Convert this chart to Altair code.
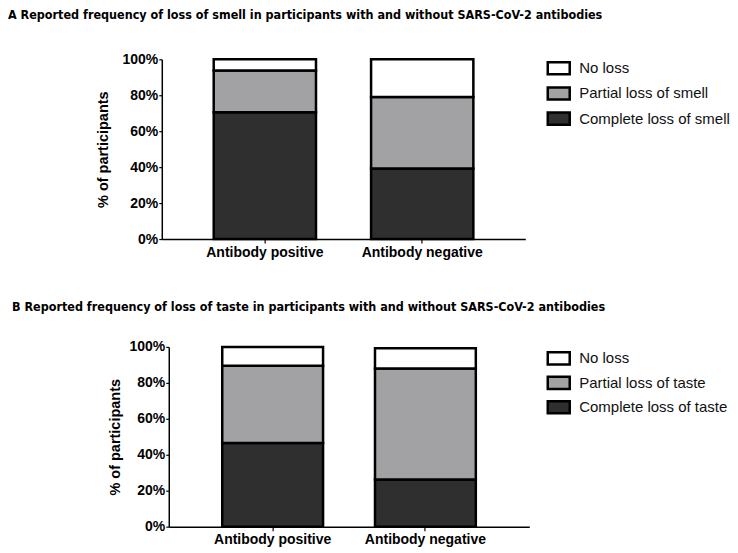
import altair as alt
import pandas as pd

groups = ["Antibody positive", "Antibody negative"]

smell_levels = ["No loss", "Partial loss of smell", "Complete loss of smell"]
smell_complete = [70.5, 39.3]
smell_partial = [23.3, 39.7]
smell_none = [6.2, 21.0]

taste_levels = ["No loss", "Partial loss of taste", "Complete loss of taste"]
taste_complete = [46.5, 26.2]
taste_partial = [43.0, 61.8]
taste_none = [10.5, 11.3]

fills = ["#ffffff", "#a2a2a5", "#2f2f2f"]

FONT = "Liberation Sans"
TFONT = "DejaVu Sans Condensed, Liberation Sans"


def make_df(levels, complete, partial, none):
    rows = []
    for i, g in enumerate(groups):
        rows.append({"group": g, "level": levels[2], "value": complete[i], "ord": 0})
        rows.append({"group": g, "level": levels[1], "value": partial[i], "ord": 1})
        rows.append({"group": g, "level": levels[0], "value": none[i], "ord": 2})
    return pd.DataFrame(rows)


def panel(df, levels, title, tdx, toff, lx, ly, rowpad, shift, width, ytp, pin, pout):
    return alt.Chart(df).mark_bar(stroke="black", strokeWidth=2.5).encode(
        x=alt.X("group:N", sort=groups, title=None,
                scale=alt.Scale(range=[shift, shift + width], paddingInner=pin, paddingOuter=pout),
                axis=alt.Axis(labelAngle=0, labelFont=FONT, labelFontSize=14,
                              labelFontWeight="bold", labelColor="black",
                              domainColor="black", domainWidth=1.5,
                              tickColor="black", tickSize=4, tickWidth=1.2,
                              labelPadding=2)),
        y=alt.Y("value:Q", stack="zero", title="% of participants",
                scale=alt.Scale(domain=[0, 100], nice=False),
                axis=alt.Axis(values=[0, 20, 40, 60, 80, 100], labelExpr="datum.value + '%'",
                              grid=False, labelFont=FONT, labelFontSize=14,
                              labelFontWeight="bold", labelColor="black",
                              titleFont=FONT, titleFontSize=14.5, titleFontWeight="bold",
                              titleColor="black", titlePadding=ytp,
                              domainColor="black", domainWidth=1.5,
                              tickColor="black", tickSize=3, tickWidth=1.2,
                              labelPadding=1, offset=-shift)),
        color=alt.Color("level:N", scale=alt.Scale(domain=levels, range=fills),
                        legend=alt.Legend(title=None, orient="none", legendX=lx, legendY=ly,
                                          symbolType="M-1,-0.55H1V0.55H-1Z", symbolSize=484,
                                          symbolStrokeColor="black", symbolStrokeWidth=2.5,
                                          symbolOpacity=1,
                                          labelFont=FONT, labelFontSize=15, labelColor="#111",
                                          labelOffset=8, rowPadding=rowpad, padding=0,
                                          labelLimit=300)),
        order=alt.Order("ord:Q", sort="ascending"),
    ).properties(
        width=width + shift, height=180,
        title=alt.TitleParams(title, anchor="start", frame="group", dx=tdx,
                              font=TFONT, fontSize=12.5, fontWeight="bold", color="black",
                              offset=toff),
    )


a = panel(make_df(smell_levels, smell_complete, smell_partial, smell_none), smell_levels,
          "A   Reported frequency of loss of smell in participants with and without SARS-CoV-2 antibodies",
          -154, 31, 385, -3.5, 1.2, 0, 364, 12, 0.35, 0.33)
b = panel(make_df(taste_levels, taste_complete, taste_partial, taste_none), taste_levels,
          "B   Reported frequency of loss of taste in participants with and without SARS-CoV-2 antibodies",
          -150, 26, 385, -1, 0.5, 7, 361, 7, 0.34, 0.35)

chart = alt.concat(a, b, columns=1, spacing=42).resolve_scale(color="independent").configure_view(
    stroke=None).properties(padding={"left": 0, "top": 0, "right": 0, "bottom": 0}, background="white")

chart.save("out.html", embed_options={"renderer": "svg", "actions": False})
